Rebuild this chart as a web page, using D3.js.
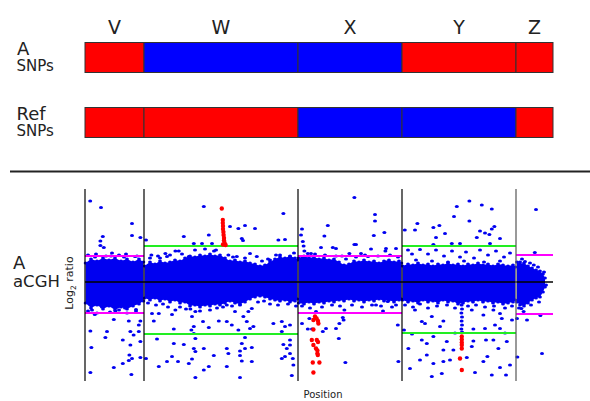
<!DOCTYPE html>
<html>
<head>
<meta charset="utf-8">
<script src="https://cdn.jsdelivr.net/npm/d3@7"></script>
<style>
  body { margin: 0; background: #fff; }
  svg { display: block; }
  text { font-family: "DejaVu Sans", sans-serif; fill: #222; }
</style>
</head>
<body>
<svg id="chart" width="590" height="401"></svg>
<script>
// Chromosomes and their extents along the position axis (Mb)
const chromosomes = ["V", "W", "X", "Y", "Z"];
const chromStart  = [0, 29.5, 106.5, 158.5, 215.5];
const chromEnd    = [29.5, 106.5, 158.5, 215.5, 234];

// SNP genotype call per chromosome (1 = state 1, 0 = state 2)
const snpA   = [1, 0, 0, 1, 1];
const snpRef = [1, 1, 0, 0, 1];

// aCGH call thresholds per chromosome (log2 ratio) and threshold level
const thrUpper = [0.52, 0.72, 0.52, 0.72, 0.54];
const thrLower = [-0.62, -1.04, -0.62, -1.02, -0.64];
const thrLevel = [1, 2, 1, 2, 1];

// Dense probe band per chromosome: [position, upper log2, lower log2]
const coreV = [[0.3,0.38,-0.42],[3,0.46,-0.52],[6,0.42,-0.46],[9,0.48,-0.54],[12,0.44,-0.48],[15,0.48,-0.56],
  [18,0.42,-0.50],[21,0.46,-0.54],[24,0.40,-0.48],[27,0.46,-0.44],[29.2,0.40,-0.38]];
const coreW = [[29.8,0.32,-0.32],[32.5,0.40,-0.36],[35,0.36,-0.32],[37.5,0.42,-0.38],[40,0.38,-0.34],[42.5,0.40,-0.40],
  [45,0.44,-0.36],[47.5,0.42,-0.42],[50,0.48,-0.40],[52.5,0.52,-0.48],[55,0.50,-0.46],[57.5,0.54,-0.50],
  [60,0.52,-0.46],[62.5,0.56,-0.48],[65,0.52,-0.44],[67.5,0.54,-0.46],[70,0.48,-0.42],[72.5,0.42,-0.38],
  [75,0.44,-0.42],[77.5,0.40,-0.44],[80,0.42,-0.40],[82.5,0.38,-0.34],[85,0.36,-0.30],[87.5,0.32,-0.28],
  [90,0.34,-0.30],[92.5,0.40,-0.34],[95,0.46,-0.36],[97.5,0.50,-0.38],[100,0.48,-0.36],[102.5,0.52,-0.40],
  [105,0.48,-0.38],[106.2,0.44,-0.34]];
const coreX = [[106.8,0.48,-0.42],[109.5,0.52,-0.44],[112,0.48,-0.40],[114.5,0.50,-0.44],[117,0.46,-0.40],
  [119.5,0.48,-0.42],[122,0.44,-0.38],[124.5,0.46,-0.40],[127,0.40,-0.36],[129.5,0.34,-0.38],[132,0.36,-0.34],
  [134.5,0.42,-0.38],[137,0.40,-0.36],[139.5,0.44,-0.40],[142,0.40,-0.36],[144.5,0.42,-0.38],[147,0.38,-0.34],
  [149.5,0.42,-0.38],[152,0.44,-0.36],[154.5,0.40,-0.40],[157,0.42,-0.36],[158.2,0.38,-0.34]];
const coreY = [[158.8,0.32,-0.36],[161.5,0.36,-0.40],[164,0.34,-0.38],[166.5,0.38,-0.42],[169,0.34,-0.36],
  [171.5,0.36,-0.40],[174,0.32,-0.38],[176.5,0.36,-0.42],[179,0.34,-0.36],[181.5,0.38,-0.40],[184,0.34,-0.38],
  [186.5,0.36,-0.44],[189,0.32,-0.42],[191.5,0.36,-0.38],[194,0.34,-0.40],[196.5,0.38,-0.36],[199,0.34,-0.40],
  [201.5,0.36,-0.38],[204,0.32,-0.42],[206.5,0.36,-0.40],[209,0.34,-0.44],[211.5,0.32,-0.42],[214,0.34,-0.40],
  [215.2,0.30,-0.36]];
const coreZ = [[216,0.40,-0.40],[217.5,0.36,-0.46],[219.5,0.38,-0.48],[221.5,0.32,-0.42],[223.5,0.28,-0.36],
  [225.5,0.24,-0.32],[227.5,0.22,-0.30],[229,0.16,-0.20],[230,0.08,-0.10]];
const coreBands = [coreV, coreW, coreX, coreY, coreZ];

// Individual probes outside the dense band: [position, log2 ratio]
const probes = [
  // V
  [2.6,1.62],[8.0,1.49],[23.5,1.17],[8.9,0.91],[23.5,0.93],[27.7,0.89],[7.7,0.82],[7.7,0.73],[9.4,0.69],
  [4.9,-0.65],[14.4,-0.75],[21.9,-0.78],[27.7,-0.78],[26.9,-0.86],[2.7,-0.98],[11.0,-0.99],[22.7,-0.99],
  [24.3,-1.06],[26.9,-0.99],[10.2,-1.11],[18.9,-1.16],[22.7,-1.26],[27.7,-1.19],[3.2,-1.31],[22.2,-1.46],
  [23.5,-1.53],[21.9,-1.57],[27.7,-1.51],[18.9,-1.63],[14.4,-1.71],[2.7,-1.81],[23.2,-1.85],
  [3.5,-0.56],[8.5,-0.50],[15.2,-0.58],[20.0,-0.52],[25.5,-0.55],[5.0,0.50],[13.0,0.52],[19.5,0.50],[25.0,0.51],
  [1.5,0.54],[5.5,0.56],[10.5,0.52],[13.5,0.58],[17,0.54],[20.5,0.56],[26,0.52],
  [1.5,-0.58],[6,-0.62],[12.5,-0.60],[17,-0.56],[21,-0.62],[25.5,-0.58],
  // W
  [59.4,1.51],[49.4,0.91],[61.9,0.94],[58.5,0.77],[63.5,0.77],[54.4,0.77],[30.5,0.84],[72.5,1.11],[76.7,1.07],
  [80.0,1.13],[85.0,1.07],[78.4,0.87],[79.0,0.83],[99.2,1.37],[96.7,0.84],[100.0,0.85],
  [33.2,0.54],[40.2,0.57],[41.0,0.51],[45.2,0.62],[46.9,0.62],[51.9,0.51],[71.7,0.54],[75.9,0.51],[82.5,0.57],
  [85.9,0.51],[92.5,0.44],[97.5,0.54],[102.5,0.51],[65.5,0.64],[37.5,0.48],
  [32.5,0.48],[36.5,0.52],[42.5,0.54],[48.5,0.56],[55,0.64],[60,0.66],[64.5,0.62],[74,0.50],[80,0.48],
  [88.5,0.42],[91.5,0.46],[95.5,0.54],[104.5,0.58],
  [31.5,-0.42],[35.5,-0.46],[39,-0.44],[41.5,-0.50],[47.5,-0.50],[50.5,-0.54],[57.5,-0.58],[62.5,-0.56],
  [66,-0.52],[69,-0.50],[73.5,-0.48],[86.5,-0.40],[89.5,-0.38],[92.5,-0.44],[96.5,-0.46],[101.5,-0.44],[105.5,-0.48],
  [33.5,-0.63],[36.9,-0.63],[45.2,-0.56],[43.5,-0.65],[52.7,-0.54],[55.2,-0.59],[53.5,-0.69],[34.4,-0.78],
  [44.4,-0.94],[54.4,-0.89],[59.0,-0.79],[53.2,-0.96],[54.4,-1.03],[61.9,-0.91],[66.9,-0.78],[36.0,-1.14],
  [55.2,-1.13],[49.4,-1.25],[44.4,-1.23],[54.4,-1.33],[59.4,-1.33],[55.2,-1.39],[64.4,-1.47],[43.5,-1.49],
  [41.0,-1.59],[46.5,-1.59],[51.9,-1.63],[53.5,-1.54],[61.9,-1.69],[36.9,-1.69],[59.4,-1.76],[55.2,-1.91],
  [30.5,-1.53],
  [70.9,-0.46],[75.0,-0.59],[77.5,-0.46],[81.7,-0.59],[83.4,-0.53],[79.2,-0.69],[80.9,-0.79],[70.9,-0.79],
  [73.4,-0.86],[76.7,-0.96],[82.5,-0.93],[84.2,-0.89],[94.2,-0.83],[98.4,-0.79],[100.0,-0.89],[98.4,-0.99],
  [102.5,-0.86],[80.0,-1.11],[78.4,-1.23],[102.5,-1.16],[99.2,-1.25],[100.9,-1.33],[80.0,-1.33],[77.5,-1.38],
  [83.4,-1.31],[70.9,-1.33],[71.7,-1.43],[77.5,-1.47],[78.4,-1.58],[83.4,-1.59],[98.4,-1.53],[100.0,-1.49],
  [102.5,-1.43],[103.9,-1.53],[70.9,-1.69],[104.2,-1.66],[103.4,-1.87],[77.5,-1.91],[102.5,-1.26],
  // X
  [134.7,1.69],[121.4,1.13],[145.0,1.35],[145.0,1.22],[149.7,0.99],[144.4,0.93],[119.7,0.92],[108.5,1.06],
  [108.0,0.94],[108.9,0.81],[109.3,0.72],[109.7,0.62],[111.4,0.57],[113.0,0.57],[118.0,0.69],[123.9,0.69],
  [125.5,0.67],[134.7,0.75],[135.5,0.75],[143.0,0.66],[150.5,0.67],[150.2,0.62],[155.5,0.67],[132.2,0.57],
  [138.0,0.57],[141.5,0.51],[128.5,0.52],
  [115,0.56],[120,0.54],[125.5,0.52],[130.5,0.46],[135.5,0.50],[140,0.54],[146.5,0.52],[152.5,0.54],[156.5,0.50],
  [108.5,-0.48],[112.5,-0.52],[118.5,-0.50],[123.5,-0.46],[127.5,-0.48],[133.5,-0.46],[138.5,-0.50],
  [143.5,-0.46],[148,-0.48],[153.5,-0.50],
  [115.5,-0.59],[129.7,-0.56],[145.5,-0.46],[151.4,-0.39],[155.5,-0.46],[108.5,-0.83],[112.2,-0.73],
  [111.4,-0.94],[113.5,-0.94],[120.5,-0.93],[118.9,-0.99],[127.2,-0.83],[125.5,-0.93],[128.9,-0.71],
  [129.3,-0.76],[126.9,-1.13],[156.4,-0.86],[130.2,-1.61],[156.7,-1.59],[149.0,-0.58],
  // Y
  [192.2,1.62],[198.4,1.54],[203.4,1.46],[185.9,1.51],[184.5,1.31],[192.2,1.22],[166.2,1.17],[165.0,1.04],
  [174.2,1.09],[177.2,1.13],[159.9,1.04],[180.0,0.97],[175.5,0.89],[197.5,1.02],[204.7,1.11],[203.4,1.06],
  [202.2,0.95],[195.9,0.89],[200.0,0.98],[207.5,0.87],[187.5,0.77],[174.2,0.75],[202.5,0.77],[183.4,0.77],
  [161.5,0.64],[163.5,0.56],[167.5,0.65],[171.5,0.56],[175.5,0.64],[179.5,0.52],[183.5,0.62],[187.5,0.50],
  [190.5,0.60],[194.5,0.48],[197.5,0.64],[201.5,0.54],[205.5,0.62],[209.5,0.50],[212.5,0.58],[165.5,0.44],
  [173.5,0.42],[181.5,0.40],[189.5,0.42],[199.5,0.40],[207.5,0.42],
  [160,-0.46],[164,-0.50],[167.5,-0.44],[171.5,-0.52],[176,-0.48],[181,-0.46],[185,-0.52],[191.5,-0.48],
  [195.5,-0.46],[200,-0.50],[204.5,-0.48],[210,-0.52],[213.5,-0.48],
  [165.0,-0.56],[168.4,-0.79],[170.0,-0.83],[173.4,-0.69],[179.2,-0.78],[177.5,-0.89],[193.4,-0.56],
  [199.2,-0.66],[204.2,-0.56],[207.5,-0.63],[208.4,-0.73],[205.0,-0.86],[207.5,-0.93],[194.2,-0.94],
  [200.0,-0.93],[168.4,-1.16],[174.2,-1.09],[170.9,-1.23],[180.9,-1.19],[179.2,-1.36],[184.2,-1.36],
  [170.9,-1.46],[167.5,-1.56],[174.2,-1.63],[179.2,-1.59],[182.5,-1.56],[194.2,-1.18],[200.5,-1.16],
  [204.2,-1.16],[206.7,-1.33],[210.9,-1.19],[201.2,-1.49],[199.2,-1.59],[207.5,-1.71],[212.5,-1.66],
  [161.7,-1.33],[162.5,-1.73],[173.4,-1.89],[178.4,-1.83],[195.0,-1.81],[203.4,-1.86],[210.5,-1.86],
  [193.4,-1.29],[190.9,-1.51],[159.5,-0.96],[163.5,-1.04],[185.0,-1.02],[210.0,-1.02],[213.5,-0.76],
  [188.3,-0.46],[188.5,-0.54],[188.2,-0.62],[188.5,-0.70],[188.3,-0.78],[188.5,-0.86],[188.2,-0.94],[188.5,-1.00],
  // Z
  [225.5,1.45],[224.9,0.59],[218.5,0.46],[220.0,0.41],[224.4,0.34],[218.2,-0.53],[219.3,-0.59],[221.0,-0.76],
  [227.7,-0.67],[216.0,-0.73],[228.5,-1.43],[216.2,-1.50],
  [217.5,0.40],[222.5,0.38],[226.5,0.30],[229.5,0.20],[217,-0.52],[223,-0.46],[227,-0.40],[230.5,-0.06]
];

// Probes flagged as significant: [position, log2 ratio]
const flagged = [
  [68.4,1.47],[68.9,1.24],[68.9,1.18],[69.0,1.12],[69.0,1.06],[69.2,1.00],[69.3,0.94],[69.5,0.88],
  [69.5,0.83],[69.8,0.78],[69.0,0.75],[70.3,0.74],
  [115.0,-0.69],[115.8,-0.73],[116.5,-0.78],[116.7,-0.83],[114.2,-0.76],[114.2,-0.95],[113.4,-1.16],
  [115.9,-1.16],[116.5,-1.20],[114.2,-1.26],[115.5,-1.33],[116.2,-1.37],[116.2,-1.43],[116.4,-1.46],
  [113.9,-1.61],[117.2,-1.61],[114.2,-1.81],
  [188.4,-1.09],[188.4,-1.15],[188.4,-1.21],[188.4,-1.26],[188.4,-1.33],[187.5,-1.53],[188.4,-1.76]
];

const svg = d3.select("#chart");
const x = d3.scaleLinear().domain([0, 234]).range([85, 553]);
const y = d3.scaleLinear().domain([-2, 2]).range([382, 182]);

const snpColor = { 1: "#ff0000", 0: "#0000ff" };
const thrColor = { 1: "#ff00ff", 2: "#22ee22" };
const probeBlue = "#0000f0";

// ---- chromosome names ----
svg.selectAll("text.chrom").data(chromosomes).join("text")
  .attr("class", "chrom")
  .attr("x", (d, i) => x((chromStart[i] + chromEnd[i]) / 2))
  .attr("y", 34)
  .attr("text-anchor", "middle")
  .style("font-size", "19px")
  .text(d => d);

// ---- SNP bars ----
function snpBar(states, top) {
  const g = svg.append("g");
  g.selectAll("rect").data(states).join("rect")
    .attr("x", (d, i) => x(chromStart[i]))
    .attr("width", (d, i) => x(chromEnd[i]) - x(chromStart[i]))
    .attr("y", top)
    .attr("height", 30)
    .attr("fill", d => snpColor[d])
    .attr("stroke", "#333")
    .attr("stroke-width", 1);
}
snpBar(snpA, 42.5);
snpBar(snpRef, 107.5);

function label(txt, lx, ly, size) {
  svg.append("text").attr("x", lx).attr("y", ly).style("font-size", size + "px").text(txt);
}
label("A", 17, 55, 18);
label("SNPs", 16.5, 71, 15);
label("Ref", 16.5, 120, 18);
label("SNPs", 16.5, 136, 15);

// separator between the SNP and aCGH panels
svg.append("line").attr("x1", 10).attr("x2", 590).attr("y1", 171.5).attr("y2", 171.5)
  .attr("stroke", "#222").attr("stroke-width", 2.2);

// ---- aCGH panel ----
label("A", 13, 269, 18);
label("aCGH", 13, 287, 16.5);

const ylab = svg.append("text")
  .attr("transform", "translate(73,283) rotate(-90)")
  .attr("text-anchor", "middle")
  .style("font-size", "11px");
ylab.append("tspan").text("Log");
ylab.append("tspan").attr("dy", 3).style("font-size", "7.5px").text("2");
ylab.append("tspan").attr("dy", -3).text(" ratio");

svg.append("text").attr("x", 323).attr("y", 398).attr("text-anchor", "middle")
  .style("font-size", "10px").text("Position");

// dense probe bands
const band = d3.area().x(d => x(d[0])).y0(d => y(d[2])).y1(d => y(d[1])).curve(d3.curveLinear);
const coreG = svg.append("g");
coreBands.forEach(b => {
  coreG.append("path").attr("d", band(b)).attr("fill", probeBlue);
  coreG.selectAll(null).data(b.flatMap(d => [[d[0], d[1]], [d[0], d[2]]])).join("ellipse")
    .attr("cx", d => x(d[0])).attr("cy", d => y(d[1]))
    .attr("rx", 1.9).attr("ry", 1.5).attr("fill", probeBlue);
});

// scattered probes
svg.append("g").selectAll("ellipse").data(probes).join("ellipse")
  .attr("cx", d => x(d[0])).attr("cy", d => y(d[1]))
  .attr("rx", 2).attr("ry", 1.5).attr("fill", probeBlue);

// thresholds
const thrG = svg.append("g");
chromosomes.forEach((c, i) => {
  [thrUpper[i], thrLower[i]].forEach(v => {
    thrG.append("line")
      .attr("x1", x(chromStart[i])).attr("x2", x(chromEnd[i]))
      .attr("y1", y(v)).attr("y2", y(v))
      .attr("stroke", thrColor[thrLevel[i]]).attr("stroke-width", 2);
  });
});

// zero line
svg.append("line").attr("x1", x(0)).attr("x2", x(234)).attr("y1", y(0)).attr("y2", y(0))
  .attr("stroke", "#000").attr("stroke-width", 1.5);

// flagged probes
svg.append("g").selectAll("circle").data(flagged).join("circle")
  .attr("cx", d => x(d[0])).attr("cy", d => y(d[1]))
  .attr("r", 2.2).attr("fill", "#ff0000");

// chromosome dividers
svg.append("g").selectAll("line").data(chromStart).join("line")
  .attr("x1", d => x(d)).attr("x2", d => x(d))
  .attr("y1", 189).attr("y2", 381)
  .attr("stroke", (d, i) => i === 4 ? "#555" : "#000").attr("stroke-width", 1.2);
</script>
</body>
</html>
